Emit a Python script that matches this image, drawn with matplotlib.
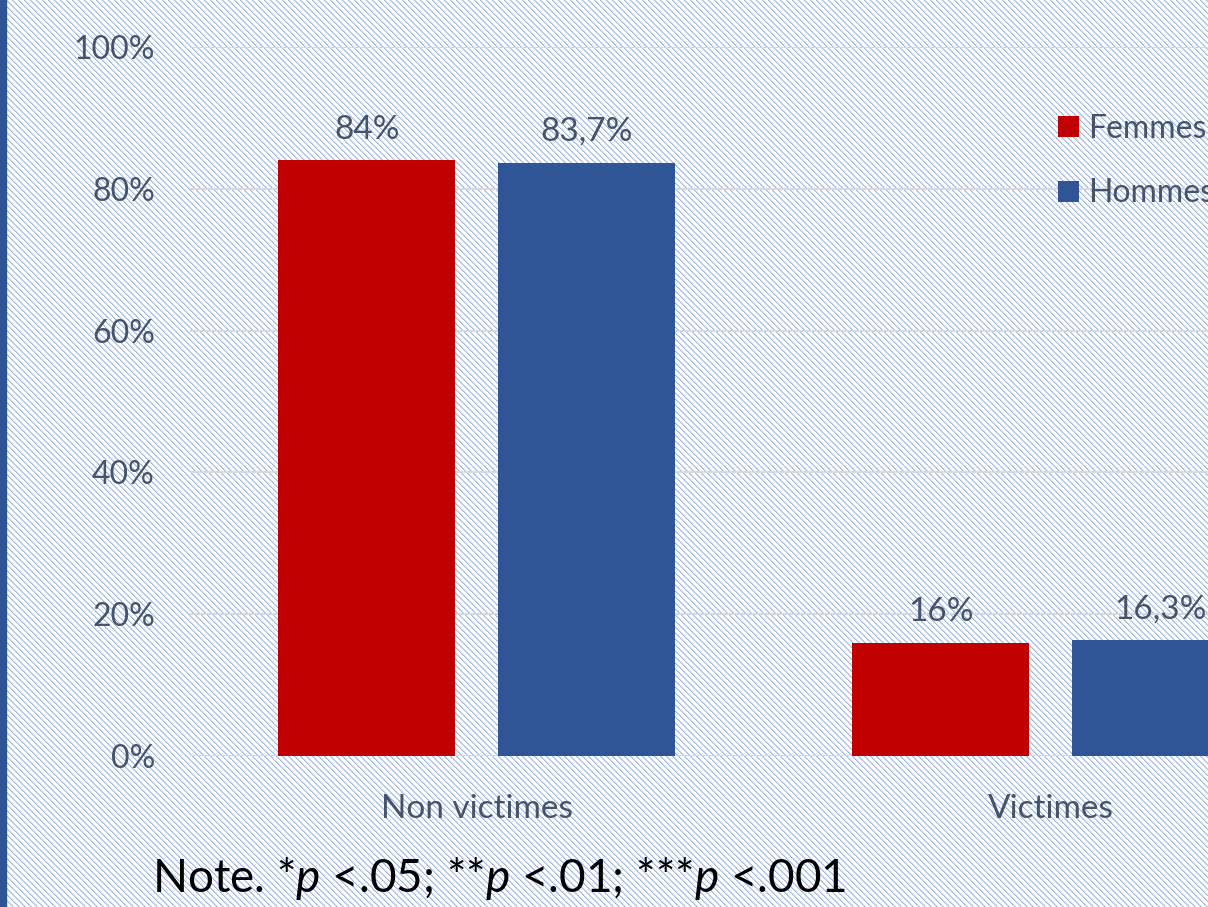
import numpy as np
import matplotlib
matplotlib.use("Agg")
import matplotlib.pyplot as plt
from matplotlib.patches import Rectangle

plt.rcParams["font.family"] = ["Lato", "DejaVu Sans"]
plt.rcParams["mathtext.fontset"] = "custom"
plt.rcParams["mathtext.rm"] = "Lato"
plt.rcParams["mathtext.it"] = "Lato:italic"

categories = ["Non victimes", "Victimes"]
femmes = [84.0, 16.0]
hommes = [83.7, 16.3]
series_names = ["Femmes", "Hommes"]

RED = "#C00000"
BLUE = "#2F5597"
TEXT = "#44546A"
W, H = 1208, 907
DPI = 100


def stripes(w, h, period=6):
    # diagonal hatch background, light blue on white
    yy, xx = np.mgrid[0:h, 0:w]
    k = (xx - yy) % period
    img = np.ones((h, w, 3))
    c1 = np.array([160, 182, 224]) / 255
    c2 = np.array([205, 216, 239]) / 255
    img[k == 0] = c1
    img[k == 1] = c2
    return img


def pct(v):
    return f"{v:g}%".replace(".", ",")


def main():
    fig = plt.figure(figsize=(W / DPI, H / DPI), dpi=DPI, facecolor="white")
    fig.figimage(stripes(W, H), 0, 0, zorder=0)
    fig.patches.append(Rectangle((0, 0), 6 / W, 1, transform=fig.transFigure,
                                 color=BLUE, zorder=1))

    left, right = 189.5, 1337.5
    top, bottom = 47, 756
    ax = fig.add_axes([left / W, (H - bottom) / H, (right - left) / W, (bottom - top) / H])
    ax.set_facecolor("none")
    ax.set_zorder(2)

    x = np.arange(len(categories))
    bw = 0.308
    off = 0.191
    b1 = ax.bar(x - off, femmes, bw, color=RED, label=series_names[0], zorder=3)
    b2 = ax.bar(x + off, hommes, bw, color=BLUE, label=series_names[1], zorder=3)

    for bars, vals in [(b1, femmes), (b2, hommes)]:
        for rect, v in zip(bars, vals):
            ax.annotate(pct(v), (rect.get_x() + rect.get_width() / 2, v),
                        xytext=(0, 22), textcoords="offset points",
                        ha="center", va="center", fontsize=24, color=TEXT)

    ax.set_xlim(-0.5, 1.5)
    ax.set_ylim(0, 100)
    ax.set_yticks(np.arange(0, 101, 20))
    ax.set_yticklabels([f"{t}%" for t in range(0, 101, 20)])
    ax.set_xticks(x)
    ax.set_xticklabels(categories)
    ax.tick_params(axis="y", length=0, pad=25, labelsize=23, labelcolor=TEXT)
    ax.tick_params(axis="x", length=0, pad=27, labelsize=24, labelcolor=TEXT)
    ax.grid(axis="y", color="#D9D9D9", linewidth=1.5, zorder=1)
    for s in ax.spines.values():
        s.set_visible(False)

    ax.legend(loc="upper left", bbox_to_anchor=(1058 / W, (H - 114) / H),
              bbox_transform=fig.transFigure, frameon=False, fontsize=23,
              handlelength=0.65, handleheight=0.65, handletextpad=0.3,
              labelspacing=1.08, labelcolor=TEXT, borderpad=0, borderaxespad=0)

    fig.text(152 / W, (H - 878) / H,
             r"Note. *$p$ <.05; **$p$ <.01; ***$p$ <.001",
             fontsize=33, color="black", ha="left", va="center", zorder=3)

    fig.savefig("out.png", dpi=DPI, facecolor="white")


if __name__ == "__main__":
    main()
